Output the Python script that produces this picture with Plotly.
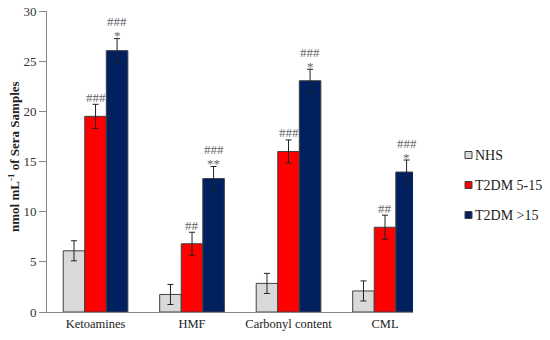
import plotly.graph_objects as go

categories = ["Ketoamines", "HMF", "Carbonyl content", "CML"]
series_names = ["NHS", "T2DM 5-15", "T2DM >15"]
nhs = [6.1, 1.75, 2.85, 2.1]
t2dm_5_15 = [19.5, 6.8, 16.0, 8.45]
t2dm_15 = [26.05, 13.3, 23.05, 13.95]
nhs_err = [1.0, 1.0, 1.0, 1.0]
t2dm_5_15_err = [1.2, 1.15, 1.15, 1.2]
t2dm_15_err = [1.2, 1.2, 1.15, 1.2]
sig_hash_5_15 = ["###", "##", "###", "##"]
sig_hash_15 = ["###", "###", "###", "###"]
sig_star_15 = ["*", "**", "*", "*"]
tick_vals = [0, 5, 10, 15, 20, 25, 30]
y_title = "<b>nmol mL<sup>-1</sup> of Sera Samples</b>"

colors = ["#D9D9D9", "#FF0000", "#002060"]
font_family = "Liberation Serif, Times New Roman, serif"

fig = go.Figure()
for name, vals, errs, col in zip(series_names, [nhs, t2dm_5_15, t2dm_15],
                                 [nhs_err, t2dm_5_15_err, t2dm_15_err], colors):
    fig.add_trace(go.Bar(
        x=categories, y=vals, name=name, showlegend=False,
        marker=dict(color=col, line=dict(color="#404040", width=1)),
        error_y=dict(type="data", array=errs, color="#222222", thickness=1, width=3),
    ))

offset = 0.67 / 3
sig_font = dict(family=font_family, size=13, color="#666666")
annotations = []
for i, c in enumerate(categories):
    top_r = t2dm_5_15[i] + t2dm_5_15_err[i]
    annotations.append(dict(x=i, xref="x", y=top_r, yref="y", text=sig_hash_5_15[i],
                            showarrow=False, yanchor="middle", yshift=7, font=sig_font))
    top_n = t2dm_15[i] + t2dm_15_err[i]
    annotations.append(dict(x=i + offset, xref="x", y=top_n, yref="y", text=sig_star_15[i],
                            showarrow=False, yanchor="middle", yshift=3, font=sig_font))
    annotations.append(dict(x=i + offset, xref="x", y=top_n, yref="y", text=sig_hash_15[i],
                            showarrow=False, yanchor="middle", yshift=17, font=sig_font))

# y-axis title
annotations.append(dict(x=(14 - 47) / 366, xref="paper", y=(312 - 157) / 301, yref="paper",
                        text=y_title, textangle=-90, showarrow=False,
                        xanchor="center", yanchor="middle",
                        font=dict(family=font_family, size=13, color="#222222")))

# legend (manual, compact like the reference)
legend_x0 = 465  # px
legend_y = [155, 185, 215]  # px from top
shapes = []
for name, col, yy in zip(series_names, colors, legend_y):
    shapes.append(dict(type="rect", xref="paper", yref="paper",
                       x0=(legend_x0 - 47) / 366, x1=(legend_x0 + 7 - 47) / 366,
                       y0=(312 - yy - 3.5) / 301, y1=(312 - yy + 3.5) / 301,
                       fillcolor=col, line=dict(color="#404040", width=1)))
    annotations.append(dict(x=(legend_x0 + 8 - 47) / 366, xref="paper",
                            y=(312 - yy) / 301, yref="paper", text=name,
                            xanchor="left", yanchor="middle", showarrow=False,
                            font=dict(family=font_family, size=14, color="#222222")))

fig.update_layout(
    width=550, height=340,
    margin=dict(l=47, r=137, t=11, b=28, autoexpand=False),
    paper_bgcolor="white", plot_bgcolor="white",
    barmode="group", bargap=0.33, bargroupgap=0,
    font=dict(family=font_family, size=12, color="#222222"),
    showlegend=False,
    annotations=annotations, shapes=shapes,
    xaxis=dict(range=[-0.503, 3.29], showline=True, linecolor="#888888", linewidth=1,
               ticks="", showgrid=False, automargin=False,
               tickfont=dict(family=font_family, size=12.5)),
    yaxis=dict(range=[0, 30], tickvals=tick_vals, showline=True, linecolor="#888888",
               linewidth=1, ticks="outside", ticklen=7, tickcolor="#888888",
               showgrid=False, zeroline=False, automargin=False,
               tickfont=dict(family=font_family, size=13, color="#333333")),
)

fig.write_html("out.html", config={"displayModeBar": False},
               post_script="document.body.style.margin='0';document.body.style.padding='0';")
